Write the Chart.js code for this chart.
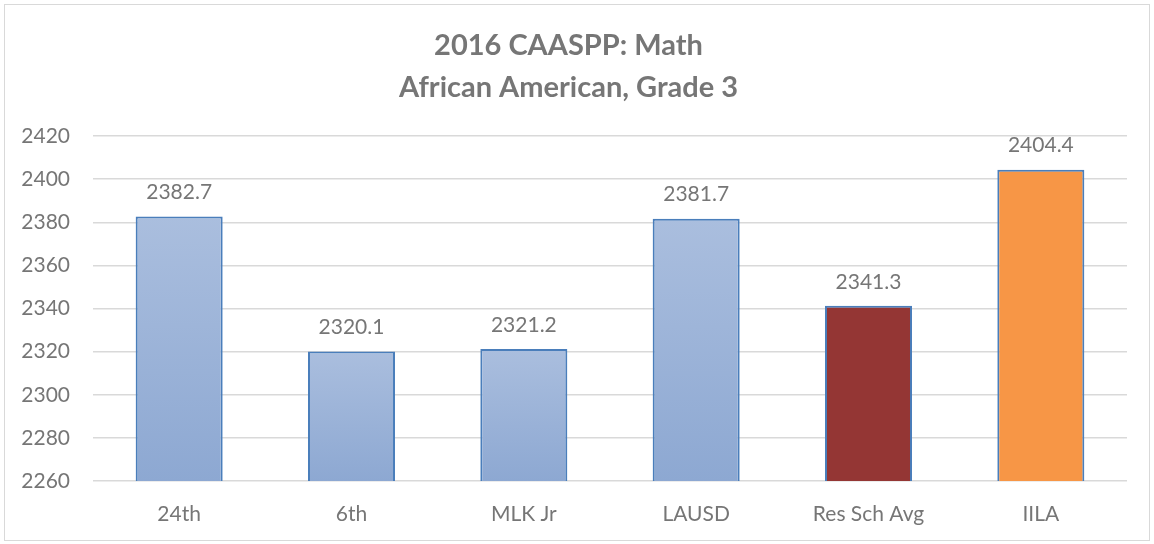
<!DOCTYPE html>
<html><head><meta charset="utf-8">
<script src="https://cdn.jsdelivr.net/npm/chart.js@4.4.1/dist/chart.umd.min.js"></script>
<style>html,body{margin:0;padding:0;background:#fff;}#wrap{width:1154px;height:544px;position:relative;}</style>
</head><body><div id="wrap"><canvas id="c" width="1154" height="544"></canvas></div>
<script>
const categories = ["24th", "6th", "MLK Jr", "LAUSD", "Res Sch Avg", "IILA"];
const scores = [2382.7, 2320.1, 2321.2, 2381.7, 2341.3, 2404.4];
const barKinds = ["blue", "blue", "blue", "blue", "red", "orange"];
const titleLines = ["2016 CAASPP: Math", "African American, Grade 3"];
const yMin = 2260, yMax = 2420, yStep = 20;

const FONT = "Lato, 'Open Sans', sans-serif";
const TXT = "#767676";

const borderPlugin = {
  id: 'frame',
  beforeDraw(chart) {
    const c = chart.ctx;
    c.save();
    c.fillStyle = '#fff';
    c.fillRect(0, 0, chart.width, chart.height);
    c.strokeStyle = '#d9d9d9';
    c.lineWidth = 1;
    c.strokeRect(4.5, 4.5, chart.width - 9, chart.height - 8);
    c.restore();
  }
};

const labelPlugin = {
  id: 'valueLabels',
  afterDatasetsDraw(chart) {
    const c = chart.ctx;
    const meta = chart.getDatasetMeta(0);
    c.save();
    c.font = "21px " + FONT;
    c.fillStyle = TXT;
    c.textAlign = 'center';
    c.textBaseline = 'middle';
    meta.data.forEach((bar, i) => {
      c.fillText(scores[i].toFixed(1), bar.x, bar.y - 24);
    });
    c.restore();
  }
};

function fillFor(ctx) {
  const i = ctx.dataIndex;
  const kind = barKinds[i];
  if (kind === 'red') return '#943634';
  if (kind === 'orange') return '#F79646';
  const chart = ctx.chart;
  const ys = chart.scales.y;
  if (!ys || !chart.chartArea) return '#9DB3D8';
  const top = ys.getPixelForValue(scores[i]);
  const bottom = ys.getPixelForValue(yMin);
  const g = chart.ctx.createLinearGradient(0, top, 0, bottom);
  g.addColorStop(0, '#AABEDE');
  g.addColorStop(1, '#8DA8D2');
  return g;
}

new Chart(document.getElementById('c'), {
  type: 'bar',
  data: {
    labels: categories,
    datasets: [{
      data: scores,
      backgroundColor: fillFor,
      borderColor: '#4A7EBB',
      borderWidth: 2,
      borderSkipped: 'bottom',
      categoryPercentage: 1,
      barPercentage: 0.505
    }]
  },
  options: {
    responsive: false,
    animation: false,
    layout: { padding: { left: 10, right: 27, top: 0, bottom: 0 } },
    plugins: {
      legend: { display: false },
      tooltip: { enabled: false },
      title: {
        display: true,
        text: titleLines,
        color: TXT,
        font: { family: FONT, size: 29, weight: 'bold', lineHeight: 1.45 },
        padding: { top: 25, bottom: 27 }
      }
    },
    scales: {
      y: {
        min: yMin, max: yMax,
        ticks: { stepSize: yStep, color: TXT, font: { family: FONT, size: 21 }, padding: 23,
                 callback: (v) => String(v) },
        grid: { color: '#d9d9d9', lineWidth: 1.5, drawTicks: false },
        border: { display: false },
        afterFit(s) { s.width = 83; }
      },
      x: {
        ticks: { color: TXT, font: { family: FONT, size: 21 }, padding: 21 },
        grid: { display: false, drawTicks: false },
        border: { display: false },
        afterFit(s) { s.height = 63; }
      }
    }
  },
  plugins: [borderPlugin, labelPlugin]
});
</script>
</body></html>
